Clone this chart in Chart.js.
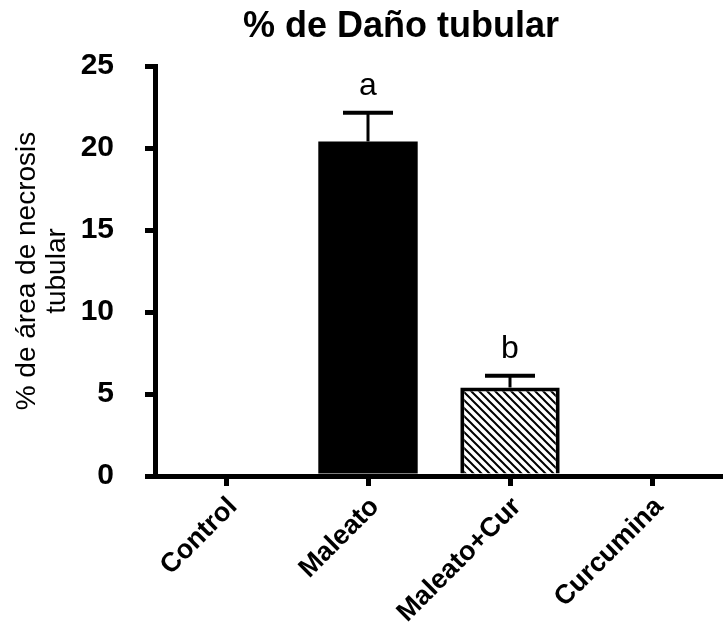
<!DOCTYPE html>
<html>
<head>
<meta charset="utf-8">
<script src="https://cdn.jsdelivr.net/npm/chart.js@4/dist/chart.umd.min.js"></script>
<style>
  html, body { margin: 0; padding: 0; background: #fff; }
  canvas { display: block; }
</style>
</head>
<body>
<canvas id="grafica" width="723" height="628"></canvas>
<script>
const categorias = ['Control', 'Maleato', 'Maleato+Cur', 'Curcumina'];
const valores = [0, 20.4, 5.4, 0];
const errores = [0, 1.75, 0.72, 0];
const letras = ['', 'a', 'b', ''];
const titulo = '% de Daño tubular';
const tituloY = ['% de área de necrosis', 'tubular'];

const fuente = "'Liberation Sans', Arial, sans-serif";

// rayado diagonal para Maleato+Cur
function rayado() {
  const c = document.createElement('canvas');
  c.width = 8; c.height = 8;
  const g = c.getContext('2d');
  g.fillStyle = '#fff';
  g.fillRect(0, 0, 8, 8);
  g.strokeStyle = '#000';
  g.lineWidth = 2;
  g.beginPath();
  g.moveTo(-2, -2); g.lineTo(10, 10);
  g.moveTo(-2, 6); g.lineTo(2, 10);
  g.moveTo(6, -2); g.lineTo(10, 2);
  g.stroke();
  return g.createPattern(c, 'repeat');
}

const ctx = document.getElementById('grafica').getContext('2d');
const relleno = ['#000', '#000', rayado(), '#000'];
const bordes = [4, 0, 4, 4];

const barrasError = {
  id: 'barrasError',
  afterDatasetsDraw(chart) {
    const c = chart.ctx;
    const meta = chart.getDatasetMeta(0);
    const y = chart.scales.y;
    c.save();
    c.strokeStyle = '#000';
    c.fillStyle = '#000';
    meta.data.forEach((bar, i) => {
      if (!valores[i]) return;
      const yv = y.getPixelForValue(valores[i]);
      const ye = y.getPixelForValue(valores[i] + errores[i]);
      c.lineWidth = 3;
      c.beginPath();
      c.moveTo(bar.x, yv);
      c.lineTo(bar.x, ye);
      c.stroke();
      c.lineWidth = 4;
      c.beginPath();
      c.moveTo(bar.x - 25, ye);
      c.lineTo(bar.x + 25, ye);
      c.stroke();
      if (letras[i]) {
        c.font = '32px ' + fuente;
        c.textAlign = 'center';
        c.textBaseline = 'alphabetic';
        c.fillText(letras[i], bar.x, ye - 18);
      }
    });
    c.restore();
  }
};

const tituloGrafica = {
  id: 'tituloGrafica',
  afterDraw(chart) {
    const c = chart.ctx;
    c.save();
    c.font = 'bold 36px ' + fuente;
    c.fillStyle = '#000';
    c.textAlign = 'center';
    c.textBaseline = 'alphabetic';
    c.fillText(titulo, 401, 37);
    c.restore();
  }
};

new Chart(ctx, {
  type: 'bar',
  data: {
    labels: categorias,
    datasets: [{
      data: valores,
      backgroundColor: relleno,
      borderColor: '#000',
      borderWidth: bordes,
      barPercentage: 0.7,
      categoryPercentage: 1
    }]
  },
  options: {
    responsive: false,
    animation: false,
    layout: { padding: { top: 66, right: -9, left: 0, bottom: 0 } },
    plugins: {
      legend: { display: false },
      tooltip: { enabled: false }
    },
    scales: {
      x: {
        grid: { offset: false, drawOnChartArea: false, drawTicks: true, tickLength: 10, lineWidth: 5, tickWidth: 5, color: '#000', tickColor: '#000' },
        border: { display: true, color: '#000', width: 5 },
        ticks: {
          color: '#000',
          font: { family: fuente, size: 27, weight: 'bold' },
          minRotation: 45,
          maxRotation: 45,
          padding: 5,
          labelOffset: 7
        },
        afterFit(scale) { scale.height = 152; }
      },
      y: {
        min: 0,
        max: 25,
        grid: { drawOnChartArea: false, drawTicks: true, tickLength: 10, lineWidth: 5, tickWidth: 5, color: '#000', tickColor: '#000' },
        border: { display: true, color: '#000', width: 5 },
        ticks: {
          stepSize: 5,
          color: '#000',
          font: { family: fuente, size: 30, weight: 'bold' },
          padding: 31
        },
        title: {
          display: true,
          text: tituloY,
          color: '#000',
          font: { family: fuente, size: 28, lineHeight: 1.07 },
          padding: { top: 12, bottom: 0 }
        },
        afterFit(scale) { scale.width = 155; }
      }
    }
  },
  plugins: [barrasError, tituloGrafica]
});
</script>
</body>
</html>
